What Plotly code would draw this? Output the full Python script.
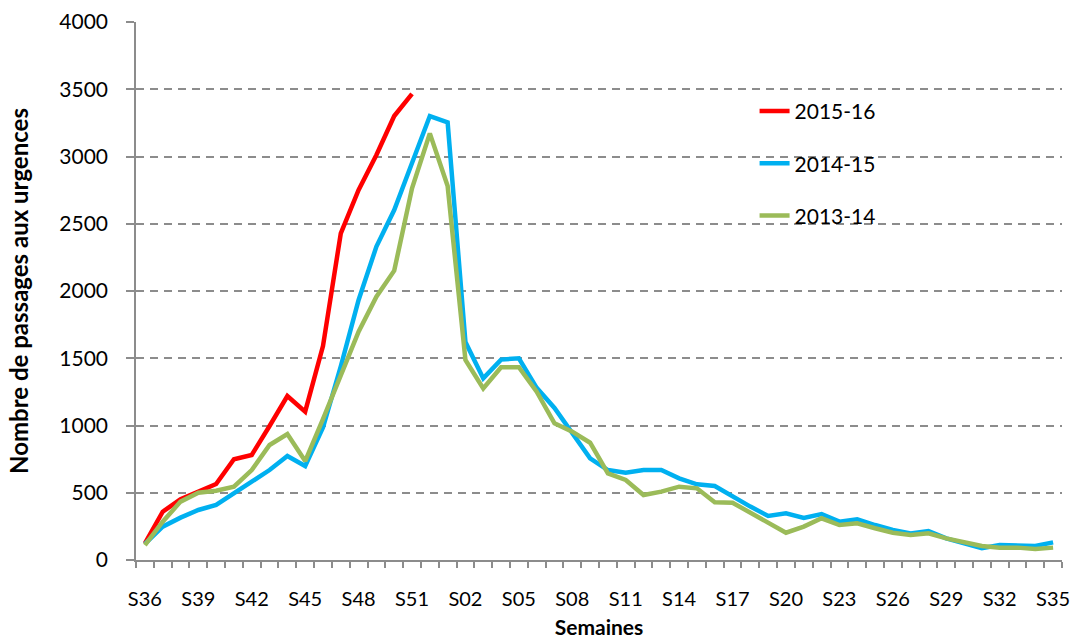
import plotly.graph_objects as go

weeks = [f"S{w:02d}" for w in list(range(36, 53)) + list(range(1, 36))]
label_weeks = weeks[::3]

s2015_16 = [124, 359, 451, 508, 565, 749, 781, 996, 1219, 1103, 1590, 2429, 2751, 3011, 3301, 3465]
s2014_15 = [120, 248, 315, 372, 409, 491, 582, 669, 773, 699, 985, 1440, 1933, 2330, 2602, 2952,
            3301, 3254, 1620, 1350, 1490, 1500, 1280, 1130, 950, 756, 669, 649, 669, 669, 607, 563,
            550, 471, 397, 327, 347, 312, 342, 285, 302, 260, 223, 198, 216, 161, 124, 87, 112, 104, 104, 131]
s2013_14 = [110, 285, 434, 500, 515, 545, 669, 855, 937, 736, 1048, 1363, 1698, 1958, 2151, 2763,
            3172, 2781, 1487, 1276, 1433, 1433, 1251, 1016, 954, 872, 644, 595, 483, 508, 545, 533,
            429, 426, 352, 277, 203, 248, 310, 260, 273, 236, 203, 186, 198, 161, 131, 104, 92, 92, 82, 92]

series = [("2015-16", s2015_16, "#FF0000"),
          ("2014-15", s2014_15, "#00B0F0"),
          ("2013-14", s2013_14, "#9BBB59")]

fig = go.Figure()
for name, vals, color in series:
    fig.add_trace(go.Scatter(x=weeks[:len(vals)], y=vals, mode="lines", name=name,
                             legendgroup=name,
                             line=dict(color=color, width=4.5)))

font_family = "Lato, Carlito, Calibri, sans-serif"
axis_grey = "#8C8C8C"
fig.update_layout(
    width=1085, height=641,
    margin=dict(l=136, r=23, t=22, b=81, autoexpand=False),
    plot_bgcolor="white", paper_bgcolor="white",
    font=dict(family=font_family, size=21, color="#000000"),
    legend=dict(x=0.668, y=0.872, xanchor="left", yanchor="top",
                font=dict(size=21), tracegroupgap=22, bgcolor="rgba(0,0,0,0)"),
    xaxis=dict(
        type="category", categoryorder="array", categoryarray=weeks,
        tickmode="array", tickvals=weeks,
        ticktext=[w if w in label_weeks else "" for w in weeks],
        tickson="boundaries", ticks="outside", ticklen=6, tickcolor=axis_grey, tickwidth=1.5,
        showline=True, linecolor=axis_grey, linewidth=1.5,
        showgrid=False, tickangle=0, automargin=False,
        tickfont=dict(size=20),
        ticklabelstandoff=20,
        title=dict(text="<b>Semaines</b>", font=dict(size=21), standoff=12),
        range=[-0.5, 51.5],
    ),
    yaxis=dict(
        range=[0, 4000], dtick=500, tick0=0,
        ticks="outside", ticklen=8, tickcolor=axis_grey, tickwidth=1.5,
        showline=True, linecolor=axis_grey, linewidth=1.5,
        showgrid=True, gridcolor=axis_grey, griddash="8px,6px", gridwidth=1.5,
        zeroline=False, automargin=False,
        tickfont=dict(size=21),
        ticklabelstandoff=14,
        title=dict(text="<b>Nombre de passages aux urgences</b>", font=dict(size=24), standoff=24),
    ),
)

fig.write_html("out.html", config={"displayModeBar": False},
               post_script="document.body.style.margin='0';")
